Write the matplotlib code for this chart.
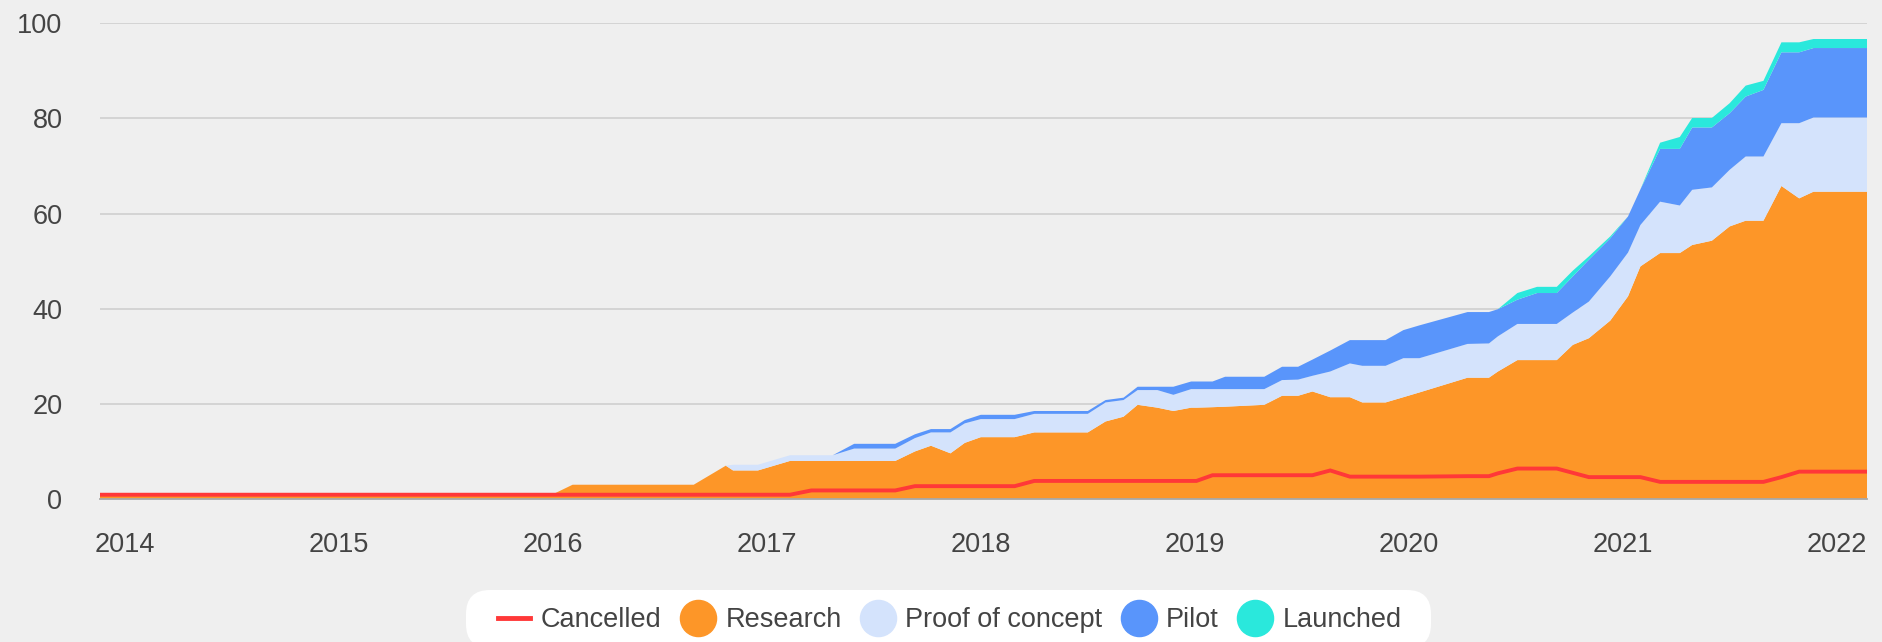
import matplotlib
matplotlib.use("Agg")
import matplotlib.pyplot as plt
from matplotlib.lines import Line2D
from matplotlib.patches import FancyBboxPatch
from matplotlib.transforms import IdentityTransform

# ---------------- data ----------------
dates = [2013.883, 2016.000, 2016.092, 2016.658, 2016.808, 2016.842, 2016.958, 2017.108,
         2017.208, 2017.308, 2017.408, 2017.600, 2017.692, 2017.767, 2017.858, 2017.925,
         2018.000, 2018.158, 2018.250, 2018.500, 2018.583, 2018.667, 2018.733, 2018.825,
         2018.900, 2018.983, 2019.008, 2019.083, 2019.142, 2019.325, 2019.408, 2019.483,
         2019.550, 2019.633, 2019.725, 2019.783, 2019.892, 2019.975, 2020.050, 2020.275,
         2020.375, 2020.417, 2020.508, 2020.600, 2020.692, 2020.767, 2020.842, 2020.942,
         2021.025, 2021.083, 2021.175, 2021.267, 2021.325, 2021.417, 2021.500, 2021.575,
         2021.658, 2021.742, 2021.825, 2021.892, 2022.142]

research = [1, 1, 3, 3, 7, 6, 6, 8, 8, 8, 8, 8, 10, 11.2, 9.6, 11.8,
            13, 13, 14, 14, 16.3, 17.3, 19.8, 19.2, 18.5, 19.2, 19.2, 19.3, 19.4, 19.8, 21.7, 21.7,
            22.6, 21.4, 21.4, 20.3, 20.3, 21.4, 22.4, 25.5, 25.5, 26.8, 29.2, 29.2, 29.2, 32.4, 33.8, 37.5,
            42.6, 48.9, 51.7, 51.7, 53.4, 54.3, 57.3, 58.5, 58.5, 65.8, 63.2, 64.6, 64.6]

proof_of_concept = [0, 0, 0, 0, 0, 1.2, 1.2, 1.2, 1.2, 1.2, 2.6, 2.6, 2.8, 2.8, 4.4, 4.1,
                    3.8, 3.8, 3.9, 3.9, 4.0, 3.5, 3.1, 3.7, 3.4, 3.9, 3.9, 3.8, 3.7, 3.3, 3.3, 3.4,
                    3.3, 5.4, 7.1, 7.7, 7.7, 8.2, 7.2, 7.1, 7.2, 7.4, 7.6, 7.6, 7.6, 6.8, 7.7, 9.3,
                    9.2, 8.7, 10.8, 10.0, 11.6, 11.2, 11.9, 13.5, 13.5, 13.2, 15.8, 15.6, 15.6]

pilot = [0, 0, 0, 0, 0, 0, 0, 0, 0, 0, 1.0, 1.0, 0.8, 0.7, 0.7, 0.7,
         0.9, 0.9, 0.6, 0.6, 0.5, 0.5, 0.7, 0.7, 1.7, 1.6, 1.6, 1.6, 2.6, 2.6, 2.8, 2.7,
         3.4, 4.4, 4.9, 5.4, 5.4, 5.9, 6.9, 6.7, 6.6, 5.7, 5.1, 6.5, 6.5, 7.6, 8.8, 8.0,
         7.6, 7.5, 11.1, 11.9, 13.1, 12.6, 11.9, 12.6, 14.0, 14.9, 14.9, 14.6, 14.6]

launched = [0] * 42 + [1.4, 1.3, 1.3, 1.2, 0.7, 0.4, 0, 0, 1.3, 2.5, 2.0, 2.0, 2.1, 2.3,
                       1.9, 2.1, 2.1, 1.9, 1.9]

cancelled = [0.9] * 8 + [1.8] * 4 + [2.7] * 6 + [3.8] * 9 + [5.0] * 6 + [6.0] + [4.7] * 5 + \
            [4.8, 4.8, 5.4, 6.4, 6.4, 6.4, 5.5, 4.6, 4.6, 4.6, 4.6] + [3.6] * 7 + [4.6, 5.75, 5.75, 5.75]

year_ticks = [2014, 2015, 2016, 2017, 2018, 2019, 2020, 2021, 2022]
year_labels = ["2014", "2015", "2016", "2017", "2018", "2019", "2020", "2021", "2022"]
y_ticks = [0, 20, 40, 60, 80, 100]

series_names = ["Research", "Proof of concept", "Pilot", "Launched"]

# ---------------- style ----------------
BG = "#efefef"
C_RES = "#fd9628"
C_POC = "#d4e3fc"
C_PIL = "#5995fb"
C_LAU = "#2ae8dc"
C_CAN = "#ff3838"
TXT = "#444444"
FS = 19.5

plt.rcParams["font.family"] = ["Liberation Sans", "DejaVu Sans"]

fig = plt.figure(figsize=(18.82, 6.42), dpi=100, facecolor=BG)
ax = fig.add_axes([100 / 1882, 1 - 499 / 642, (1867 - 100) / 1882, (499 - 23.3) / 642])
ax.set_facecolor(BG)

ax.stackplot(dates, research, proof_of_concept, pilot, launched,
             colors=[C_RES, C_POC, C_PIL, C_LAU], labels=series_names,
             linewidth=0, zorder=2)
ax.plot(dates, cancelled, color=C_CAN, lw=2.8, solid_joinstyle="miter", zorder=3)

ax.set_xlim(dates[0], dates[-1])
ax.set_ylim(0, 100)
ax.set_xticks(year_ticks)
ax.set_xticklabels(year_labels)
ax.set_yticks(y_ticks)
ax.tick_params(axis="both", length=0, labelsize=FS, labelcolor=TXT)
ax.tick_params(axis="x", pad=24)
ax.tick_params(axis="y", pad=27)

ax.set_axisbelow(True)
ax.grid(axis="y", color="#cfcfcf", lw=1.2)
ax.grid(axis="x", visible=False)
for s in ["top", "right", "left"]:
    ax.spines[s].set_visible(False)
ax.spines["bottom"].set_color("#a8a8a8")
ax.spines["bottom"].set_linewidth(1.3)
ax.spines["bottom"].set_zorder(4)

# ---------------- legend ----------------
box = FancyBboxPatch((466, -6), 1431 - 466, 58,
                     boxstyle="round,pad=0,rounding_size=24",
                     transform=IdentityTransform(), facecolor="white", edgecolor="none",
                     zorder=0)
fig.patches.append(box)

handles = [Line2D([], [], color=C_CAN, lw=3.5)]
for c in [C_RES, C_POC, C_PIL, C_LAU]:
    handles.append(Line2D([], [], ls="none", marker="o", markersize=26,
                          markerfacecolor=c, markeredgecolor=c))
leg = fig.legend(handles, ["Cancelled"] + series_names, loc="center",
                 bbox_to_anchor=(949.5 / 1882, 1 - 620 / 642), bbox_transform=fig.transFigure,
                 ncol=5, frameon=False, fontsize=FS, handlelength=1.2,
                 handletextpad=0.4, columnspacing=0.75, borderpad=0.2)
for t in leg.get_texts():
    t.set_color(TXT)

fig.savefig("out.png", dpi=100, facecolor=BG)
